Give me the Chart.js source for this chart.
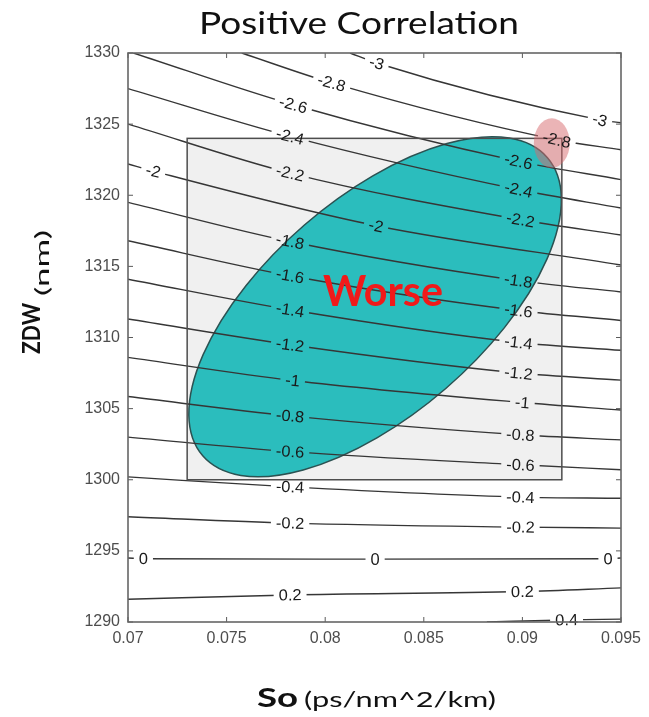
<!DOCTYPE html>
<html>
<head>
<meta charset="utf-8">
<title>Positive Correlation</title>
<script src="https://cdn.jsdelivr.net/npm/chart.js@4.4.1/dist/chart.umd.min.js"></script>
<style>
    html, body { margin: 0; padding: 0; background: #fff; }
</style>
</head>
<body>
<canvas id="contourChart" width="649" height="717"></canvas>
<script>
// contour levels and their labels
var levels = [-3, -2.8, -2.6, -2.4, -2.2, -2, -1.8, -1.6, -1.4, -1.2, -1, -0.8, -0.6, -0.4, -0.2, 0, 0.2, 0.4];
var levelText = ['-3', '-2.8', '-2.6', '-2.4', '-2.2', '-2', '-1.8', '-1.6', '-1.4', '-1.2', '-1', '-0.8', '-0.6', '-0.4', '-0.2', '0', '0.2', '0.4'];

// where each contour enters the plot (left edge, top edge or bottom edge)
var startX = [0.08126, 0.07577, 0.07027, 0.07, 0.07, 0.07, 0.07, 0.07, 0.07, 0.07, 0.07, 0.07, 0.07, 0.07, 0.07, 0.07, 0.07, 0.0882];
var startY = [1330, 1330, 1330, 1327.5, 1325.0, 1322.2, 1319.5, 1316.8, 1314.1, 1311.3, 1308.6, 1305.85, 1303.0, 1300.2, 1297.4, 1294.5, 1291.6, 1290.0];

// label positions (null = no label there)
var leftLabelX = [null, null, null, null, null, 0.07128, null, null, null, null, null, null, null, null, null, 0.07078, null, null];
var leftLabelY = [null, null, null, null, null, 1321.7, null, null, null, null, null, null, null, null, null, 1294.45, null, null];
var midLabelX = [0.08261, 0.08033, 0.07838, 0.07822, 0.07822, 0.08258, 0.07822, 0.07822, 0.07822, 0.07822, 0.07835, 0.07822, 0.07822, 0.07822, 0.07822, 0.08253, 0.07822, null];
var midLabelY = [1329.3, 1327.9, 1326.36, 1324.14, 1321.56, 1317.86, 1316.75, 1314.34, 1311.95, 1309.49, 1306.98, 1304.49, 1301.98, 1299.5, 1296.95, 1294.42, 1291.9, null];
var rightLabelX = [0.09393, 0.09174, 0.0898, 0.0898, 0.0899, null, 0.0898, 0.0898, 0.0898, 0.0898, 0.0900, 0.0899, 0.0899, 0.0899, 0.0899, 0.09434, 0.0900, 0.09224];
var rightLabelY = [1325.3, 1323.9, 1322.38, 1320.4, 1318.28, null, 1314.0, 1311.9, 1309.65, 1307.5, 1305.43, 1303.16, 1301.05, 1298.78, 1296.67, 1294.45, 1292.14, 1290.15];

// y where each contour leaves at the right edge (x = 0.095)
var endY = [1325.1, 1323.2, 1321.1, 1319.1, 1317.2, 1315.1, 1313.2, 1311.2, 1309.1, 1307.0, 1304.9, 1302.8, 1300.7, 1298.7, 1296.6, 1294.5, 1292.4, 1290.2];

// axis ticks
var xTickValues = [0.07, 0.075, 0.08, 0.085, 0.09, 0.095];
var xTickLabels = ['0.07', '0.075', '0.08', '0.085', '0.09', '0.095'];
var yTickValues = [1290, 1295, 1300, 1305, 1310, 1315, 1320, 1325, 1330];

// shaded region, ellipse and highlight spot (data units)
var boxX = [0.073, 0.092];
var boxY = [1300, 1324];
var ellipseCenter = [0.08253, 1312.16];
var ellipseMajorEnd = [0.09127, 1322.64];
var ellipseMinorEnd = [0.08611, 1306.41];
var spotCenter = [0.09149, 1323.67];
var spotRadius = [0.00091, 1.74];
var worsePos = [0.08293, 1312.18];

var labelFont = '16px "Liberation Sans", Arial, sans-serif';
var labelStretch = 1.03;

var datasets = levels.map(function (lvl, i) {
    var pts = [{ x: startX[i], y: startY[i] }];
    if (leftLabelX[i] !== null) pts.push({ x: leftLabelX[i], y: leftLabelY[i], lbl: levelText[i] });
    if (midLabelX[i] !== null) pts.push({ x: midLabelX[i], y: midLabelY[i], lbl: levelText[i] });
    if (rightLabelX[i] !== null) pts.push({ x: rightLabelX[i], y: rightLabelY[i], lbl: levelText[i] });
    pts.push({ x: 0.095, y: endY[i] });
    return {
        label: levelText[i],
        data: pts,
        showLine: true,
        borderColor: '#363636',
        borderWidth: 1.4,
        pointRadius: 0,
        cubicInterpolationMode: 'monotone',
        fill: false
    };
});

function toPx(chart, p) {
    return { x: chart.scales.x.getPixelForValue(p[0]), y: chart.scales.y.getPixelForValue(p[1]) };
}

// label boxes for one dataset, in pixels
function labelBoxes(chart, index) {
    var meta = chart.getDatasetMeta(index);
    var data = chart.data.datasets[index].data;
    var ctx = chart.ctx;
    var boxes = [];
    ctx.save();
    ctx.font = labelFont;
    data.forEach(function (d, j) {
        if (!d.lbl) return;
        var el = meta.data[j], prev = meta.data[j - 1], next = meta.data[j + 1];
        var ang = Math.atan2(next.y - prev.y, next.x - prev.x);
        boxes.push({ x: el.x, y: el.y, ang: ang, text: d.lbl, w: ctx.measureText(d.lbl).width * labelStretch });
    });
    ctx.restore();
    return boxes;
}

function drawFitted(ctx, text, font, x, y, width, rot, color) {
    ctx.save();
    ctx.font = font;
    ctx.fillStyle = color;
    var w = ctx.measureText(text).width;
    ctx.translate(x, y);
    if (rot) ctx.rotate(rot);
    ctx.scale(width / w, 1);
    ctx.textAlign = 'left';
    ctx.textBaseline = 'alphabetic';
    ctx.fillText(text, 0, 0);
    ctx.restore();
}

var contourExtras = {
    id: 'contourExtras',
    beforeDatasetsDraw: function (chart) {
        var ctx = chart.ctx;
        var a = toPx(chart, [boxX[0], boxY[1]]), b = toPx(chart, [boxX[1], boxY[0]]);
        ctx.save();
        ctx.fillStyle = '#f0f0f0';
        ctx.fillRect(a.x, a.y, b.x - a.x, b.y - a.y);
        var c = toPx(chart, ellipseCenter), m = toPx(chart, ellipseMajorEnd), n = toPx(chart, ellipseMinorEnd);
        var ra = Math.hypot(m.x - c.x, m.y - c.y), rb = Math.hypot(n.x - c.x, n.y - c.y);
        ctx.beginPath();
        ctx.ellipse(c.x, c.y, ra, rb, Math.atan2(m.y - c.y, m.x - c.x), 0, Math.PI * 2);
        ctx.fillStyle = '#2bbdbd';
        ctx.fill();
        ctx.lineWidth = 1.5;
        ctx.strokeStyle = '#2b5252';
        ctx.stroke();
        ctx.restore();
    },
    beforeDatasetDraw: function (chart, args) {
        var ctx = chart.ctx;
        ctx.save();
        ctx.beginPath();
        ctx.rect(0, 0, chart.width, chart.height);
        labelBoxes(chart, args.index).forEach(function (bx) {
            var hw = bx.w / 2 + 5, hh = 8;
            var co = Math.cos(bx.ang), si = Math.sin(bx.ang);
            var pts = [[-hw, -hh], [hw, -hh], [hw, hh], [-hw, hh]];
            pts.forEach(function (p, k) {
                var px = bx.x + p[0] * co - p[1] * si;
                var py = bx.y + p[0] * si + p[1] * co;
                if (k === 0) ctx.moveTo(px, py); else ctx.lineTo(px, py);
            });
            ctx.closePath();
        });
        ctx.clip('evenodd');
    },
    afterDatasetDraw: function (chart) {
        chart.ctx.restore();
    },
    afterDatasetsDraw: function (chart) {
        var ctx = chart.ctx;
        var area = chart.chartArea;
        ctx.save();
        ctx.beginPath();
        ctx.rect(area.left, area.top, area.right - area.left, area.bottom - area.top);
        ctx.clip();
        // border of shaded region
        var a = toPx(chart, [boxX[0], boxY[1]]), b = toPx(chart, [boxX[1], boxY[0]]);
        ctx.strokeStyle = '#4d4d4d';
        ctx.lineWidth = 1.5;
        ctx.strokeRect(a.x, a.y, b.x - a.x, b.y - a.y);
        // highlight spot
        var s = toPx(chart, spotCenter);
        var rx = Math.abs(chart.scales.x.getPixelForValue(spotCenter[0] + spotRadius[0]) - s.x);
        var ry = Math.abs(chart.scales.y.getPixelForValue(spotCenter[1] + spotRadius[1]) - s.y);
        ctx.beginPath();
        ctx.ellipse(s.x, s.y, rx, ry, 0, 0, Math.PI * 2);
        ctx.fillStyle = 'rgba(215, 105, 110, 0.5)';
        ctx.fill();
        ctx.restore();
        // contour labels
        chart.data.datasets.forEach(function (ds, i) {
            labelBoxes(chart, i).forEach(function (bx) {
                ctx.save();
                ctx.translate(bx.x, bx.y);
                ctx.rotate(bx.ang);
                ctx.scale(labelStretch, 1);
                ctx.font = labelFont;
                ctx.fillStyle = '#1a1a1a';
                ctx.textAlign = 'center';
                ctx.textBaseline = 'middle';
                ctx.fillText(bx.text, 0, 1);
                ctx.restore();
            });
        });
        // annotation
        var w = toPx(chart, worsePos);
        drawFitted(ctx, 'Worse', '700 42px Lato, "Open Sans", sans-serif', w.x - 60, w.y, 120, 0, '#f01a1a');
    },
    afterDraw: function (chart) {
        var ctx = chart.ctx, area = chart.chartArea;
        var xs = chart.scales.x, ys = chart.scales.y;
        ctx.save();
        ctx.strokeStyle = '#5a5a5a';
        ctx.lineWidth = 1;
        ctx.beginPath();
        xTickValues.forEach(function (v) {
            var px = xs.getPixelForValue(v);
            ctx.moveTo(px, area.bottom); ctx.lineTo(px, area.bottom - 5);
            ctx.moveTo(px, area.top); ctx.lineTo(px, area.top + 5);
        });
        yTickValues.forEach(function (v) {
            var py = ys.getPixelForValue(v);
            ctx.moveTo(area.left, py); ctx.lineTo(area.left + 5, py);
            ctx.moveTo(area.right, py); ctx.lineTo(area.right - 5, py);
        });
        ctx.stroke();
        ctx.lineWidth = 1.6;
        ctx.strokeStyle = '#666';
        ctx.strokeRect(area.left, area.top, area.right - area.left, area.bottom - area.top);
        ctx.restore();

        // titles
        drawFitted(ctx, 'Positive Correlation', '30px Lato, "Open Sans", sans-serif', 199, 34, 320, 0, '#111');
        drawFitted(ctx, 'So', '700 27px Lato, "Open Sans", sans-serif', 257, 707, 41, 0, '#111');
        drawFitted(ctx, '(ps/nm^2/km)', '21px Lato, "Open Sans", sans-serif', 304, 707, 192, 0, '#111');
        drawFitted(ctx, 'ZDW', '700 24px Lato, "Open Sans", sans-serif', 40, 354, 51, -Math.PI / 2, '#111');
        drawFitted(ctx, '(nm)', '20px Lato, "Open Sans", sans-serif', 49, 296, 66, -Math.PI / 2, '#111');
    }
};

var tickFont = { family: '"Liberation Sans", Arial, sans-serif', size: 16 };

new Chart(document.getElementById('contourChart').getContext('2d'), {
    type: 'scatter',
    data: { datasets: datasets },
    options: {
        responsive: false,
        animation: false,
        devicePixelRatio: 1,
        layout: { padding: { top: 53, right: 28, bottom: 0, left: 0 } },
        plugins: {
            legend: { display: false },
            tooltip: { enabled: false }
        },
        scales: {
            x: {
                type: 'linear',
                min: 0.07,
                max: 0.095,
                grid: { display: false, drawTicks: false },
                border: { display: false },
                afterBuildTicks: function (s) { s.ticks = xTickValues.map(function (v) { return { value: v }; }); },
                afterFit: function (s) { s.height = 95; },
                ticks: {
                    autoSkip: false,
                    maxRotation: 0,
                    padding: 7,
                    color: '#4d4d4d',
                    font: tickFont,
                    callback: function (v, i) { return xTickLabels[i]; }
                }
            },
            y: {
                type: 'linear',
                min: 1290,
                max: 1330,
                grid: { display: false, drawTicks: false },
                border: { display: false },
                afterBuildTicks: function (s) { s.ticks = yTickValues.map(function (v) { return { value: v }; }); },
                afterFit: function (s) { s.width = 128; },
                ticks: {
                    autoSkip: false,
                    padding: 8,
                    color: '#4d4d4d',
                    font: tickFont,
                    callback: function (v) { return String(v); }
                }
            }
        }
    },
    plugins: [contourExtras]
});
</script>
</body>
</html>
